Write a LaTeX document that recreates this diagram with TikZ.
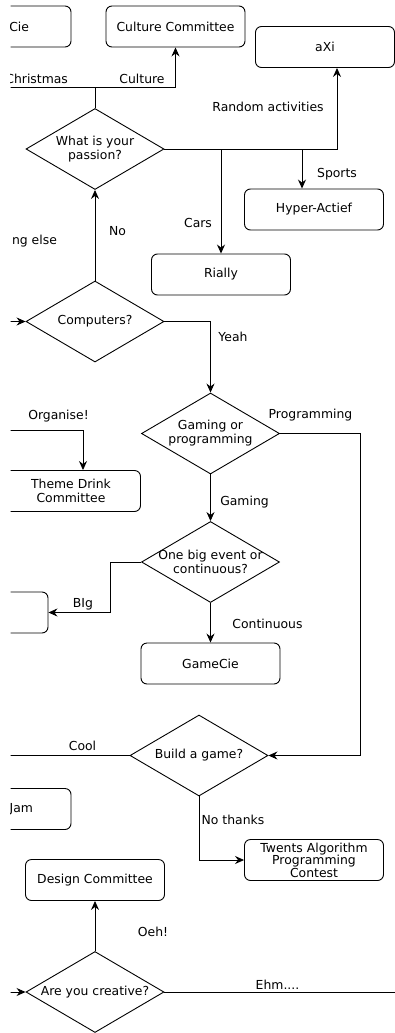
\documentclass[tikz,border=0pt]{standalone}
\usepackage{fontspec}
\setmainfont{DejaVu Sans}
\usetikzlibrary{arrows.meta,shapes.geometric}
\tikzset{
   flow/.style={>={Stealth[length=9pt,width=8pt,inset=3pt]},
   line width=0.9pt,
   x=1pt,y=-1pt,
   font=\fontsize{12.4}{14}\selectfont},
 committee/.style={rectangle,draw,rounded corners=6pt,minimum width=139pt,minimum height=41pt,inner sep=2pt,align=center},
 question/.style={diamond,draw,shape aspect=1.7,minimum width=138pt,minimum height=81pt,inner sep=0pt,align=center},
 answer/.style={inner sep=0pt},
 tight/.style={font=\fontsize{12.4}{12.4}\selectfont}
 }
\begin{document}
\begin{tikzpicture}[flow]
  \useasboundingbox (0,0) rectangle (395,1033);
  \clip (10.5,0) rectangle (395,1033);
  % committees
  \node[committee,text width=55pt,align=right] (xmas) at (1.5,26.5) {Cie};
  \node[committee] (culture) at (175.5,26.5) {Culture Committee};
  \node[committee] (axi) at (325,47) {aXi};
  \node[committee] (hyper) at (314,209.5) {Hyper-Actief};
  \node[committee] (rially) at (221,274.5) {Rially};
  \node[committee] (themedrink) at (71,491) {Theme Drink\\Committee};
  \node[committee] (bigbox) at (-21.5,612.5) {};
  \node[committee] (gamecie) at (210.5,663.5) {GameCie};
  \node[committee,text width=63pt,align=right] (jam) at (1.5,809) {Jam};
  \node[committee,tight] (tapc) at (314,860) {Twents Algorithm\\Programming\\Contest};
  \node[committee] (design) at (95,880) {Design Committee};
  % questions
  \node[question] (passion) at (95,149) {What is your\\passion?};
  \node[question] (computers) at (95,321.5) {Computers?};
  \node[question] (gaming) at (210.5,433.5) {Gaming or\\programming};
  \node[question,inner sep=-8pt] (bigevent) at (210.5,562) {One big event or\\continuous?};
  \node[question] (build) at (199,755.5) {Build a game?};
  \node[question] (creative) at (95,992) {Are you creative?};
  % loose ends and bends
  \coordinate (passionfork) at (95,87);
  \coordinate (xmasend) at (-10,87);
  \coordinate (randombend) at (337,149);
  \coordinate (sportsdrop) at ([xshift=-12pt]hyper.north);
  \coordinate (computersin) at (-10,321.5);
  \coordinate (organisein) at (-10,430);
  \coordinate (progbend) at (360,433.5);
  \coordinate (bigbend) at (110,562);
  \coordinate (coolend) at (-10,755.5);
  \coordinate (creativein) at (-10,992);
  \coordinate (ehmend) at (420,992);
  % answers
  \draw[->] (passion.north) -- (passionfork) -| (culture.south);
  \draw[->] (passionfork) -- (xmasend);
  \draw[->] (passion.east) -- (randombend) -- (randombend |- axi.south);
  \draw[->] (passion.east -| rially.north) -- (rially.north);
  \draw[->] (passion.east -| sportsdrop) -- (sportsdrop);
  \draw[->] (computers.north) -- (passion.south);
  \draw[->] (computersin) -- (computers.west);
  \draw[->] (computers.east) -| (gaming.north);
  \draw[->] (organisein) -| ([xshift=12pt]themedrink.north);
  \draw[->] (gaming.south) -- (bigevent.north);
  \draw[->] (gaming.east) -- (progbend) |- (build.east);
  \draw[->] (bigevent.west) -- (bigbend) |- (bigbox.east);
  \draw[->] (bigevent.south) -- (gamecie.north);
  \draw[->] (build.west) -- (coolend);
  \draw[->] (build.south) |- (tapc.west);
  \draw[->] (creative.north) -- (design.south);
  \draw[->] (creativein) -- (creative.west);
  \draw[->] (creative.east) -- (ehmend);
  % labels
  \node[answer] (lblxmas) at (36.7,79) {Christmas};
  \node[answer] (lblculture) at (142,79) {Culture};
  \node[answer] (lblrandom) at (268,107) {Random activities};
  \node[answer] (lblsports) at (337,174) {Sports};
  \node[answer] (lblcars) at (198,223) {Cars};
  \node[answer] (lblno) at (117.5,231) {No};
  \node[answer] (lblelse) at (34.5,241) {ng else};
  \node[answer] (lblyeah) at (233,337) {Yeah};
  \node[answer] (lblorganise) at (58.5,416) {Organise!};
  \node[answer] (lblprog) at (310.5,415) {Programming};
  \node[answer] (lblgaming) at (244.5,502) {Gaming};
  \node[answer] (lblbig) at (83,604) {BIg};
  \node[answer] (lblcont) at (267.5,624) {Continuous};
  \node[answer] (lblcool) at (82.5,746) {Cool};
  \node[answer] (lblnothanks) at (233,820) {No thanks};
  \node[answer] (lbloeh) at (153,932) {Oeh!};
  \node[answer] (lblehm) at (277.5,985) {Ehm....};
\end{tikzpicture}
\end{document}
